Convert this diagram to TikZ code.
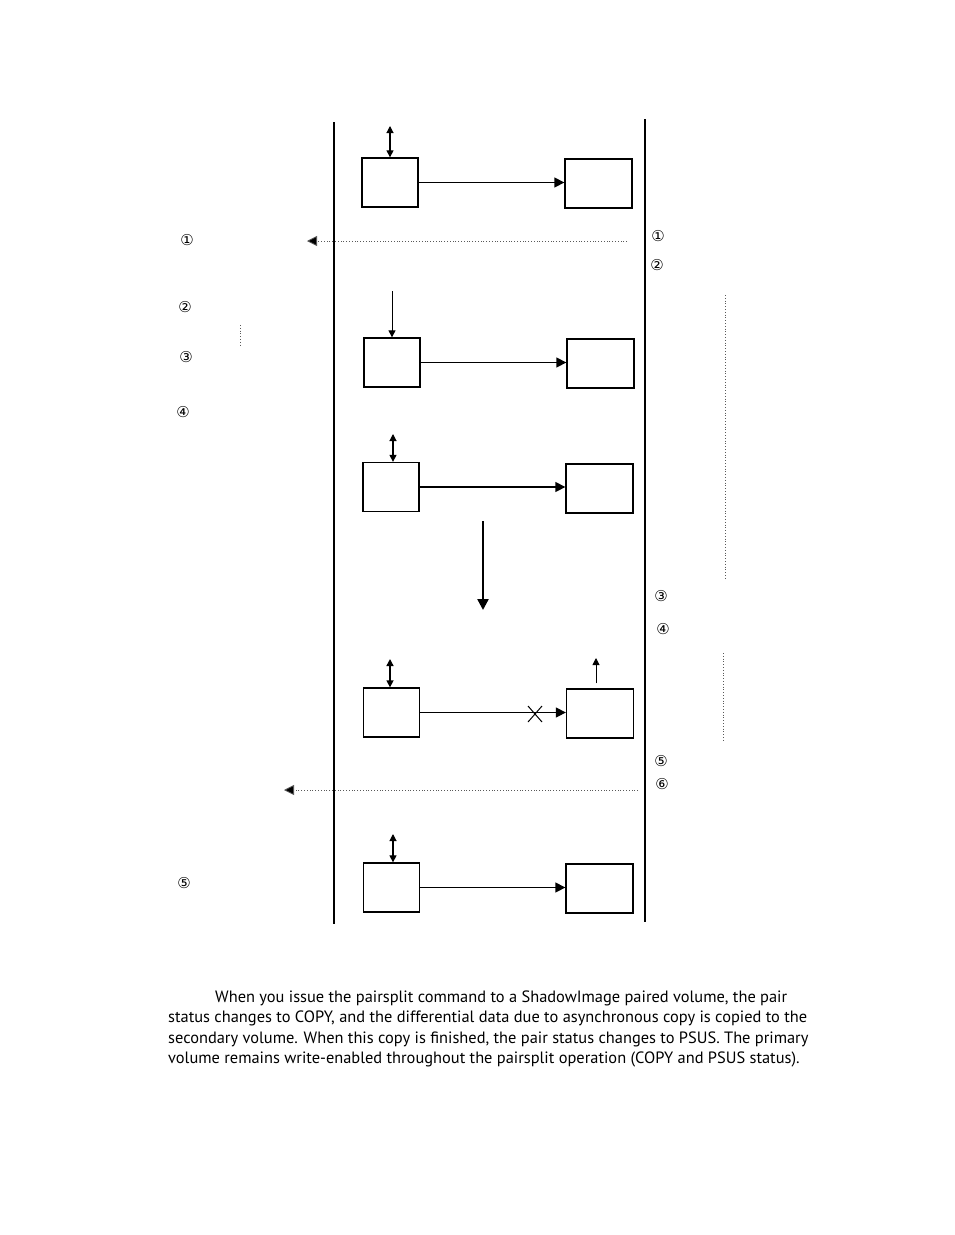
\documentclass[tikz,border=0pt]{standalone}
\usepackage{fontspec}
\setmainfont{PT Sans}
\newfontfamily\circfont{DejaVu Sans}
\usetikzlibrary{arrows.meta,calc}
\begin{document}
\begin{tikzpicture}[x=1pt,y=-1pt,
  box/.style={draw,line width=1.3pt,inner sep=0pt,minimum width=56pt,minimum height=49pt},
  sbox/.style={draw,line width=1.3pt,inner sep=0pt,minimum width=67pt,minimum height=49pt},
  conn/.style={line width=1.3pt,-{Triangle[length=10pt,width=10pt]}},
  io/.style={line width=1.1pt,{Triangle[length=7pt,width=7pt]}-{Triangle[length=7pt,width=7pt]}},
  one/.style={line width=1pt,-{Triangle[length=7pt,width=7pt]}},
  msg/.style={line width=0.8pt,dotted,gray!70!black,-{Triangle[length=10pt,width=10pt,fill=black]}},
  bar/.style={line width=2.4pt},
  vdot/.style={line width=0.8pt,dotted,gray!70!black},
  num/.style={font=\circfont\fontsize{15}{15}\selectfont,inner sep=0pt},
  para/.style={font=\fontsize{16.4}{19}\selectfont,inner sep=0pt,anchor=west}]
\path[use as bounding box] (0,0) rectangle (954,1235);
% vertical bars
\coordinate (lt) at (334,122); \coordinate (lb) at (334,924);
\coordinate (rt) at (645,119); \coordinate (rb) at (645,922);
\draw[bar] (lt) -- (lb);
\draw[bar] (rt) -- (rb);
% stage 1
\node[box] (p1) at (390,182.5) {};
\node[sbox] (s1) at (598.5,183.5) {};
\coordinate (a1) at (390,126);
\draw[io] (a1) -- (p1.north);
\draw[conn] (p1.east) -- (p1.east -| s1.west);
% message 1
\coordinate (m1s) at (627,241); \coordinate (m1e) at (307,241);
\draw[msg] (m1s) -- (m1e);
% stage 2
\node[box] (p2) at (392,362.5) {};
\node[sbox] (s2) at (600.5,363.5) {};
\coordinate (a2) at (392,291);
\draw[one] (a2) -- (p2.north);
\draw[conn] (p2.east) -- (p2.east -| s2.west);
% stage 3
\node[box] (p3) at (391,487) {};
\node[sbox] (s3) at (599.5,488.5) {};
\coordinate (a3) at (393,434);
\draw[io] (a3) -- (a3 |- p3.north);
\draw[conn] (p3.east) -- (p3.east -| s3.west);
% big down arrow
\coordinate (d1) at (483,521); \coordinate (d2) at (483,610);
\draw[line width=2.4pt,-{Triangle[length=11pt,width=11pt]}] (d1) -- (d2);
% stage 4
\node[box] (p4) at (391.5,712.5) {};
\node[sbox] (s4) at (600,713.5) {};
\coordinate (a4) at (390,659);
\draw[io,line width=1.4pt] (a4) -- (a4 |- p4.north);
\coordinate (u4) at (596,658);
\draw[one] (u4 |- s4.north) ++(0,-5) -- (u4);
\draw[conn] (p4.east) -- (p4.east -| s4.west);
\coordinate (x4) at (535,714);
\draw[line width=1pt] ($(x4)+(-7,-8)$) -- ($(x4)+(7,8)$);
\draw[line width=1pt] ($(x4)+(-7,8)$) -- ($(x4)+(7,-8)$);
% message 2
\coordinate (m2s) at (638,790); \coordinate (m2e) at (284,790);
\draw[msg] (m2s) -- (m2e);
% stage 5
\node[box] (p5) at (391.5,887.5) {};
\node[sbox] (s5) at (599.5,888.5) {};
\coordinate (a5) at (393,834);
\draw[io] (a5) -- (a5 |- p5.north);
\draw[conn] (p5.east) -- (p5.east -| s5.west);
% dotted vertical marks
\coordinate (v1a) at (240,325); \coordinate (v1b) at (240,347);
\draw[vdot] (v1a) -- (v1b);
\coordinate (v2a) at (725,295); \coordinate (v2b) at (725,578);
\draw[vdot] (v2a) -- (v2b);
\coordinate (v3a) at (723,653); \coordinate (v3b) at (723,740);
\draw[vdot] (v3a) -- (v3b);
% circled numbers left
\node[num] (l1) at (187,240) {①};
\node[num] (l2) at (185,307) {②};
\node[num] (l3) at (186,357) {③};
\node[num] (l4) at (183,412) {④};
\node[num] (l5) at (184,883) {⑤};
% circled numbers right
\node[num] (r1) at (658,236) {①};
\node[num] (r2) at (657,265) {②};
\node[num] (r3) at (661,596) {③};
\node[num] (r4) at (663,629) {④};
\node[num] (r5) at (661,761) {⑤};
\node[num] (r6) at (662,784) {⑥};
% paragraph
\node[para] (t1) at (215,998) {When you issue the pairsplit command to a ShadowImage paired volume, the pair};
\node[para] (t2) at (168,1018.5) {status changes to COPY, and the differential data due to asynchronous copy is copied to the};
\node[para] (t3) at (168,1039) {secondary volume. When this copy is finished, the pair status changes to PSUS. The primary};
\node[para] (t4) at (168,1059.5) {volume remains write-enabled throughout the pairsplit operation (COPY and PSUS status).};
\end{tikzpicture}
\end{document}
